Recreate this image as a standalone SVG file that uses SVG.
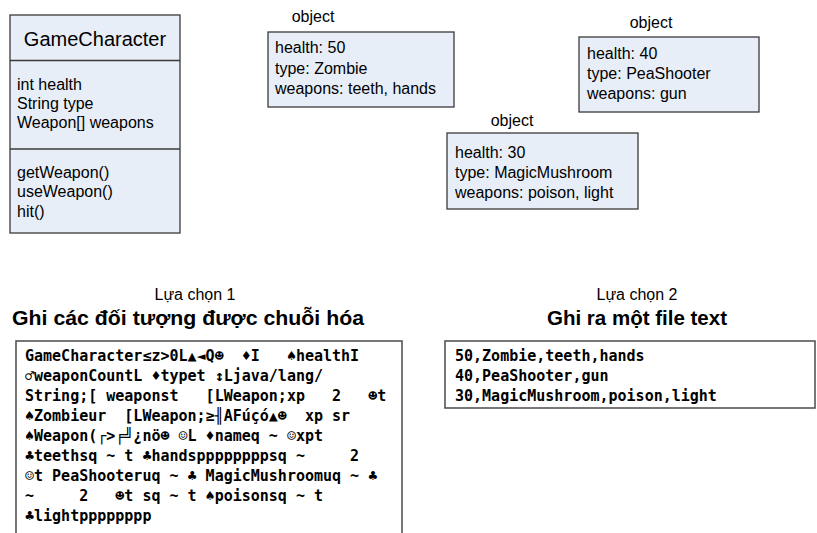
<svg xmlns="http://www.w3.org/2000/svg" width="817" height="533" viewBox="0 0 817 533">
<style>
.bg{fill:#ffffff}
.box{fill:#E8EEF8;stroke:#3a3a3a;stroke-width:1.3}
.tbox{fill:#ffffff;stroke:#555555;stroke-width:1.6}
.div{stroke:#3a3a3a;stroke-width:1.3}
.t{font-family:"Liberation Sans",Arial,sans-serif;font-size:16px;fill:#000}
.title{font-family:"Liberation Sans",Arial,sans-serif;font-size:20px;fill:#000}
.sub{font-family:"Liberation Sans",Arial,sans-serif;font-size:16px;fill:#000}
.head{font-family:"Liberation Sans",Arial,sans-serif;font-size:20.5px;font-weight:bold;fill:#000}
.m{font-family:"DejaVu Sans Mono","Liberation Mono",monospace;font-size:15px;font-weight:bold;fill:#000}
</style>
<rect class="bg" x="0" y="0" width="817" height="533"/>
<g id="class-GameCharacter">
<rect class="box" x="10" y="15" width="170" height="218"/>
<line class="div" x1="10" y1="60.5" x2="180" y2="60.5"/>
<line class="div" x1="10" y1="149" x2="180" y2="149"/>
<text class="title" x="95" y="46" text-anchor="middle">GameCharacter</text>
<text class="t" x="17" y="90">int health</text>
<text class="t" x="17" y="109">String type</text>
<text class="t" x="17" y="128">Weapon[] weapons</text>
<text class="t" x="17" y="177.5">getWeapon()</text>
<text class="t" x="17" y="197">useWeapon()</text>
<text class="t" x="17" y="216.5">hit()</text>
</g>
<g id="object-zombie">
<text class="t" x="313" y="22" text-anchor="middle">object</text>
<rect class="box" x="268" y="32" width="186" height="75"/>
<text class="t" x="275" y="53">health: 50</text>
<text class="t" x="275" y="73.5">type: Zombie</text>
<text class="t" x="275" y="94">weapons: teeth, hands</text>
</g>
<g id="object-peashooter">
<text class="t" x="651" y="28" text-anchor="middle">object</text>
<rect class="box" x="579" y="37" width="180" height="75"/>
<text class="t" x="587" y="58.5">health: 40</text>
<text class="t" x="587" y="79">type: PeaShooter</text>
<text class="t" x="587" y="99">weapons: gun</text>
</g>
<g id="object-magicmushroom">
<text class="t" x="512" y="126" text-anchor="middle">object</text>
<rect class="box" x="447" y="133" width="191" height="76"/>
<text class="t" x="455" y="157.5">health: 30</text>
<text class="t" x="455" y="178">type: MagicMushroom</text>
<text class="t" x="455" y="198">weapons: poison, light</text>
</g>
<g id="option1">
<text class="sub" x="195" y="300" text-anchor="middle">Lựa chọn 1</text>
<text class="head" x="188" y="325" text-anchor="middle" textLength="352" lengthAdjust="spacingAndGlyphs">Ghi các đối tượng được chuỗi hóa</text>
<rect class="tbox" x="16" y="341" width="386" height="210"/>
<text class="m" xml:space="preserve"><tspan x="25" y="361">GameCharacter≤z&gt;0L▲◄Q☻  ♦I   ♠healthI</tspan><tspan x="25" y="381">♂weaponCountL ♦typet ↕Ljava/lang/</tspan><tspan x="25" y="401">String;[ weaponst   [LWeapon;xp   2   ☻t</tspan><tspan x="25" y="421">♠Zombieur  [LWeapon;≥╢AFúçó▲☻  xp sr</tspan><tspan x="25" y="441">♠Weapon(┌&gt;╒╝¿nö☻ ☺L ♦nameq ~ ☺xpt</tspan><tspan x="25" y="461">♣teethsq ~ t ♣handsppppppppsq ~     2</tspan><tspan x="25" y="481">☺t PeaShooteruq ~ ♣ MagicMushroomuq ~ ♣</tspan><tspan x="25" y="501">~     2   ☻t sq ~ t ♠poisonsq ~ t</tspan><tspan x="25" y="521">♣lightpppppppp</tspan></text>
</g>
<g id="option2">
<text class="sub" x="637" y="300" text-anchor="middle">Lựa chọn 2</text>
<text class="head" x="637" y="325" text-anchor="middle">Ghi ra một file text</text>
<rect class="tbox" x="445" y="341" width="370" height="67"/>
<text class="m"><tspan x="455" y="361">50,Zombie,teeth,hands</tspan><tspan x="455" y="381">40,PeaShooter,gun</tspan><tspan x="455" y="401">30,MagicMushroom,poison,light</tspan></text>
</g>
<g id="connectors"/>
</svg>
